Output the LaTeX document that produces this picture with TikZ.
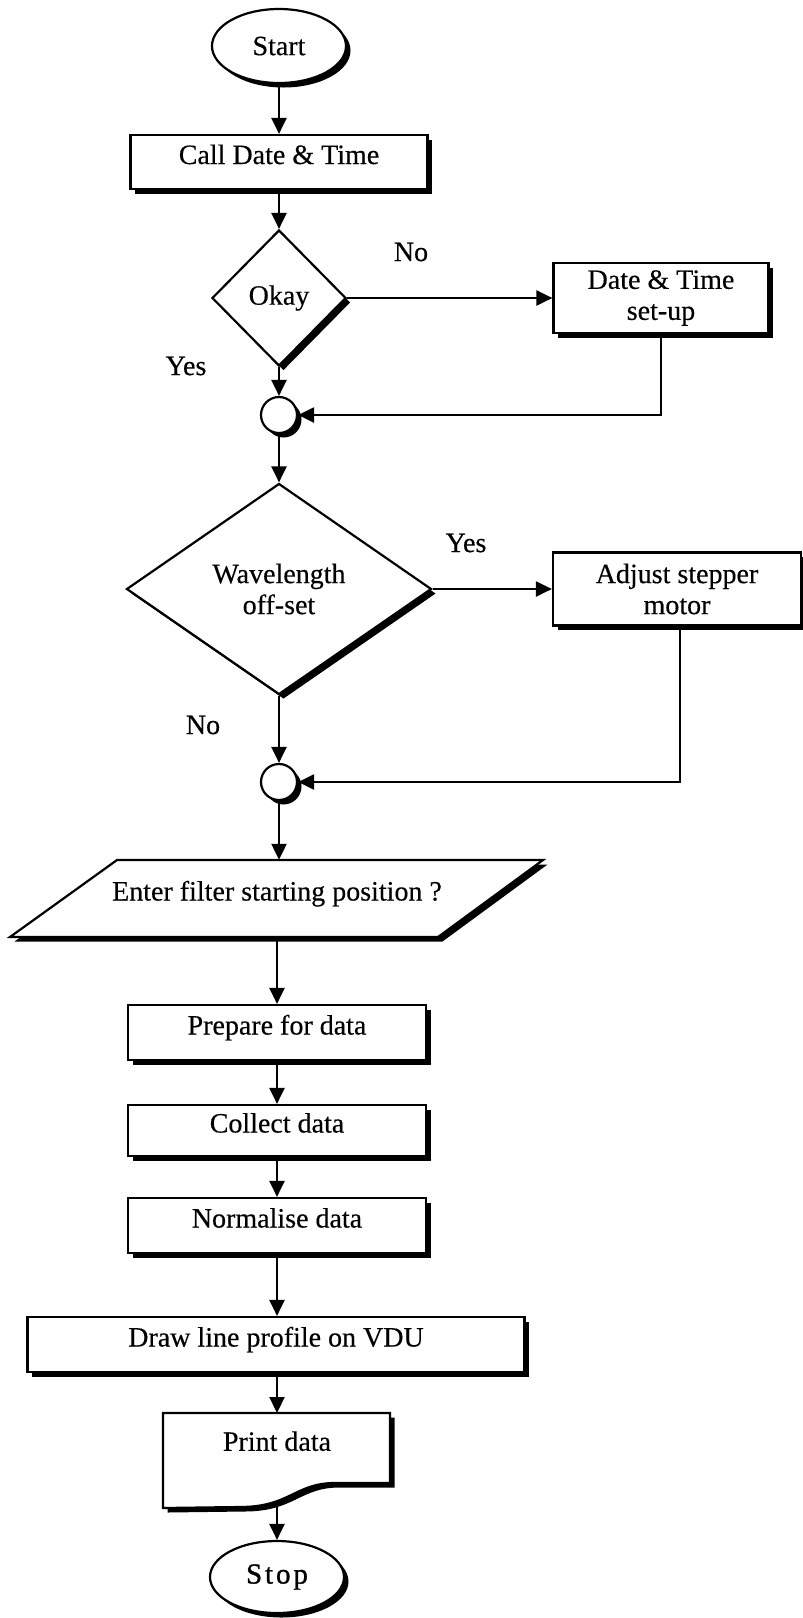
\documentclass[tikz,border=0pt]{standalone}
\usepackage{fontspec}
\setmainfont{Liberation Serif}[FakeBold=0.35]
\newfontfamily\stopfont{Liberation Serif}[LetterSpace=10,FakeBold=1]
\usetikzlibrary{shapes.geometric,arrows.meta,shadows,calc}

\begin{document}
\begin{tikzpicture}[x=1pt,y=-1pt,
  every node/.style={font=\fontsize{28}{31}\selectfont},
  ln/.style={line width=2.2pt},
  shd/.style={drop shadow={shadow xshift=4.5pt,shadow yshift=-4.5pt,fill=black,opacity=1}},
  proc/.style={draw,ln,fill=white,shd,rectangle,inner sep=0pt,align=center},
  oneline/.style={text height=20pt,text depth=16pt},
  term/.style={draw,ln,fill=white,shd,ellipse,inner sep=0pt},
  dec/.style={draw,ln,fill=white,shd,diamond,inner sep=0pt,align=center},
  jn/.style={draw,ln,fill=white,shd,circle,inner sep=0pt,minimum size=36pt},
  flow/.style={ln,-{Triangle[width=15pt,length=16pt]}},
  lbl/.style={inner sep=0pt},
  plain/.style={inner sep=0pt,align=center},
]
\fill[white] (0,0) rectangle (803,1618);
\useasboundingbox (0,0) rectangle (803,1618);

% terminals, process boxes, decisions and junctions
\node[term,minimum width=134pt,minimum height=74pt] (start) at (279,46) {Start};
\node[proc,oneline,minimum width=297pt,minimum height=54pt] (call) at (279,162) {Call Date \& Time};
\node[dec,minimum width=134pt,minimum height=136pt] (okay) at (279,298) {Okay};
\node[proc,minimum width=215pt,minimum height=70pt] (setup) at (661,298) {Date \& Time\\set-up};
\node[jn] (j1) at (279,415) {};
\node[dec,minimum width=305pt,minimum height=211pt] (wave) at (279,589) {Wavelength\\off-set};
\node[proc,minimum width=248pt,minimum height=73pt] (adjust) at (677,589) {Adjust stepper\\motor};
\node[jn] (j2) at (279,782) {};

% input parallelogram
\fill[black] (121.5,864.5) -- (547.5,864.5) -- (442.5,941.5) -- (14.5,941.5) -- cycle;
\filldraw[ln,fill=white] (117,860) -- (543,860) -- (438,937) -- (10,937) -- cycle;
\node[plain,oneline,minimum height=77pt] (enter) at (277,898.5) {Enter filter starting position ?};

\node[proc,oneline,minimum width=298pt,minimum height=55pt] (prep) at (277,1032.5) {Prepare for data};
\node[proc,oneline,minimum width=298pt,minimum height=51pt] (collect) at (277,1130.5) {Collect data};
\node[proc,oneline,minimum width=298pt,minimum height=55pt] (norm) at (277,1225.5) {Normalise data};
\node[proc,oneline,minimum width=497pt,minimum height=55pt] (drawvdu) at (276,1344.5) {Draw line profile on VDU};

% printed document
\fill[black] (167.5,1417.5) -- (394.5,1417.5) -- (394.5,1487.5) -- (339.5,1487.5)
  .. controls (299.5,1487.5) and (294.5,1511.5) .. (244.5,1511.5) -- (167.5,1512.5) -- cycle;
\filldraw[ln,fill=white] (163,1413) -- (390,1413) -- (390,1483) -- (335,1483)
  .. controls (295,1483) and (290,1507) .. (240,1507) -- (163,1508) -- cycle;
\node[plain,anchor=north,minimum width=227pt,minimum height=56pt] (print) at (277,1413) {Print data};
\coordinate (pbot) at (277,1500);

\node[term,minimum width=134pt,minimum height=72pt] (stop) at (277,1577) {\stopfont\fontsize{29}{30}\selectfont Stop};

% branch labels
\node[lbl] (lno1) at (411,252) {No};
\node[lbl] (lyes1) at (186,366) {Yes};
\node[lbl] (lyes2) at (466,543) {Yes};
\node[lbl] (lno2) at (203,725) {No};

% connectors
\draw[flow] (start) -- (call);
\draw[flow] (call) -- (okay);
\draw[flow] (okay.east) -- (setup.west);
\draw[flow] (okay.south) -- (j1.north);
\draw[flow] (setup.south) |- (j1.east);
\draw[flow] (j1.south) -- (wave.north);
\draw[flow] (wave.east) -- (adjust.west);
\draw[flow] (wave.south) -- (j2.north);
\draw[flow] ([xshift=3pt]adjust.south) |- (j2.east);
\draw[flow] (j2.south) -- (j2.south |- enter.north);
\draw[flow] (enter.south) -- (prep.north);
\draw[flow] (prep) -- (collect);
\draw[flow] (collect) -- (norm);
\draw[flow] (norm.south) -- (norm.south |- drawvdu.north);
\draw[flow] (drawvdu.south -| print.north) -- (print.north);
\draw[flow] (pbot) -- (stop.north);
\end{tikzpicture}
\end{document}
